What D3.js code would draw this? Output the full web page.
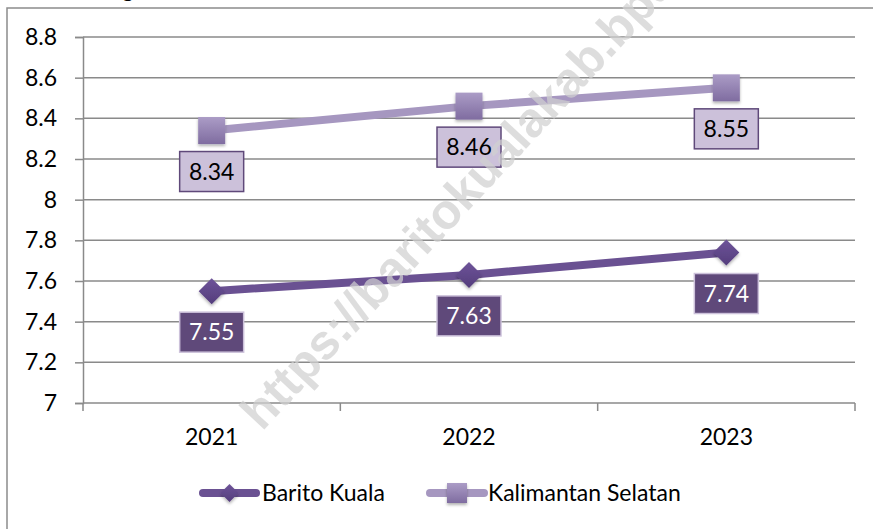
<!DOCTYPE html>
<html>
<head>
<meta charset="utf-8">
<script src="https://cdn.jsdelivr.net/npm/d3@7"></script>
<style>
  body { margin: 0; background: #fff; }
  text { font-family: Lato, "Open Sans", sans-serif; }
</style>
</head>
<body>
<div id="chart"></div>
<script>
// Data.
var years = ['2021', '2022', '2023'];
var baritoKuala = [7.55, 7.63, 7.74];
var kalimantanSelatan = [8.34, 8.46, 8.55];
var yTicks = [7, 7.2, 7.4, 7.6, 7.8, 8, 8.2, 8.4, 8.6, 8.8];

var width = 873,
    height = 529;
var margin = {left: 83, right: 18, top: 37, bottom: 126};

var svg = d3.select('#chart')
    .append('svg')
        .attr('width', width)
        .attr('height', height);

var defs = svg.append('defs');

// Gradients for the markers.
var gSq = defs.append('linearGradient').attr('id', 'gradSq')
    .attr('x1', 0).attr('y1', 0).attr('x2', 0).attr('y2', 1);
gSq.append('stop').attr('offset', '0%').attr('stop-color', '#ab9cc6');
gSq.append('stop').attr('offset', '100%').attr('stop-color', '#7f6ca0');

var gDi = defs.append('linearGradient').attr('id', 'gradDi')
    .attr('x1', 0).attr('y1', 0).attr('x2', 0).attr('y2', 1);
gDi.append('stop').attr('offset', '0%').attr('stop-color', '#6e5499');
gDi.append('stop').attr('offset', '100%').attr('stop-color', '#543d7c');

var shadow = defs.append('filter').attr('id', 'shadow')
    .attr('x', '-50%').attr('y', '-50%').attr('width', '200%').attr('height', '200%');
shadow.append('feDropShadow')
    .attr('dx', 0).attr('dy', 2).attr('stdDeviation', 1.5)
    .attr('flood-color', '#000').attr('flood-opacity', 0.3);

// Outer frame (right and bottom edges fall outside the picture).
svg.append('rect')
    .attr('x', 7).attr('y', 8)
    .attr('width', width + 10).attr('height', height + 10)
    .attr('fill', 'none')
    .attr('stroke', '#8c8c8c')
    .attr('stroke-width', 1.5);

// Title, cut off at the top edge in the source.
svg.append('text')
    .attr('x', 128).attr('y', -3)
    .attr('text-anchor', 'middle')
    .attr('font-size', '23px')
    .attr('fill', '#000')
    .text('g');

var g = svg.append('g')
    .attr('transform', 'translate(' + margin.left + ', ' + margin.top + ')');

var w = width - margin.left - margin.right,
    h = height - margin.top - margin.bottom;

var x = d3.scaleBand()
    .domain(years)
    .range([0, w]);

var y = d3.scaleLinear()
    .domain([7, 8.8])
    .range([h, 0]);

// Gridlines.
g.append('g')
    .selectAll('line')
    .data(yTicks.slice(1))
    .enter().append('line')
        .attr('x1', 0).attr('x2', w)
        .attr('y1', function(d){ return y(d); })
        .attr('y2', function(d){ return y(d); })
        .attr('stroke', '#8a8a8a')
        .attr('stroke-width', 1.5);

// Y axis.
var yAxisCall = d3.axisLeft(y)
    .tickValues(yTicks)
    .tickSize(8)
    .tickPadding(18)
    .tickFormat(function(d){ return d3.format('')(+d.toFixed(1)); });

var yAxis = g.append('g')
    .attr('class', 'y-axis')
    .call(yAxisCall);
yAxis.select('.domain').attr('stroke', '#8a8a8a').attr('stroke-width', 1.5);
yAxis.selectAll('.tick line').attr('stroke', '#8a8a8a').attr('stroke-width', 1.5);
yAxis.selectAll('text')
    .attr('font-size', '23px')
    .attr('fill', '#000')
    .style('font-family', 'Lato, sans-serif');

// X axis: line plus ticks at band edges.
g.append('line')
    .attr('x1', 0).attr('x2', w)
    .attr('y1', h).attr('y2', h)
    .attr('stroke', '#8a8a8a')
    .attr('stroke-width', 1.5);

var edges = years.map(function(d){ return x(d); }).concat([w]);
g.append('g')
    .selectAll('line')
    .data(edges)
    .enter().append('line')
        .attr('x1', function(d){ return d; })
        .attr('x2', function(d){ return d; })
        .attr('y1', h).attr('y2', h + 8)
        .attr('stroke', '#8a8a8a')
        .attr('stroke-width', 1.5);

g.append('g')
    .selectAll('text')
    .data(years)
    .enter().append('text')
        .attr('x', function(d){ return x(d) + x.bandwidth() / 2; })
        .attr('y', h + 42)
        .attr('text-anchor', 'middle')
        .attr('font-size', '23px')
        .attr('fill', '#000')
        .text(function(d){ return d; });

// Series definitions.
var series = [
    {name: 'Barito Kuala', values: baritoKuala, line: '#6a5192', marker: 'diamond',
     boxFill: '#5f497a', boxStroke: '#ccc1da', textFill: '#fff'},
    {name: 'Kalimantan Selatan', values: kalimantanSelatan, line: '#a697c0', marker: 'square',
     boxFill: '#ccc1da', boxStroke: '#5f497a', textFill: '#000'}
];

var cx = function(i){ return x(years[i]) + x.bandwidth() / 2; };

var line = d3.line()
    .x(function(d, i){ return cx(i); })
    .y(function(d){ return y(d); });

function drawMarker(sel, type, size) {
    if (type === 'square') {
        sel.append('rect')
            .attr('x', -size / 2).attr('y', -size / 2)
            .attr('width', size).attr('height', size)
            .attr('fill', 'url(#gradSq)')
            .attr('filter', 'url(#shadow)');
    } else {
        var r = size / 2;
        sel.append('path')
            .attr('d', 'M0,' + (-r) + 'L' + r + ',0L0,' + r + 'L' + (-r) + ',0Z')
            .attr('fill', 'url(#gradDi)')
            .attr('filter', 'url(#shadow)');
    }
}

series.forEach(function(s){
    g.append('path')
        .datum(s.values)
        .attr('d', line)
        .attr('fill', 'none')
        .attr('stroke', s.line)
        .attr('stroke-width', 8)
        .attr('stroke-linecap', 'round');

    s.values.forEach(function(v, i){
        var m = g.append('g')
            .attr('transform', 'translate(' + cx(i) + ',' + y(v) + ')');
        drawMarker(m, s.marker, s.marker === 'square' ? 27 : 26);

        // Data label box below the point.
        var lb = g.append('g')
            .attr('transform', 'translate(' + cx(i) + ',' + (y(v) + 41) + ')');
        lb.append('rect')
            .attr('x', -32).attr('y', -20)
            .attr('width', 64).attr('height', 40)
            .attr('fill', s.boxFill)
            .attr('stroke', s.boxStroke)
            .attr('stroke-width', 1.5);
        lb.append('text')
            .attr('x', 0).attr('y', 8)
            .attr('text-anchor', 'middle')
            .attr('font-size', '23px')
            .attr('fill', s.textFill)
            .text(d3.format('.2f')(v));
    });
});

// Watermark.
svg.append('text')
    .attr('transform', 'translate(262,432) rotate(-47)')
    .attr('font-weight', 'bold')
    .attr('font-size', '49px')
    .attr('fill', '#d0d0d0')
    .attr('fill-opacity', 0.72)
    .style('font-family', '"Liberation Sans", Arial, sans-serif')
    .text('https://baritokualakab.bps.go.id');

// Legend.
var legend = svg.append('g');
var legendItems = [
    {s: series[0], x1: 203, x2: 256, tx: 262},
    {s: series[1], x1: 430, x2: 484, tx: 488}
];
legendItems.forEach(function(d){
    var ly = 493;
    legend.append('line')
        .attr('x1', d.x1).attr('x2', d.x2)
        .attr('y1', ly).attr('y2', ly)
        .attr('stroke', d.s.line)
        .attr('stroke-width', 8)
        .attr('stroke-linecap', 'round');
    var m = legend.append('g')
        .attr('transform', 'translate(' + ((d.x1 + d.x2) / 2) + ',' + ly + ')');
    drawMarker(m, d.s.marker, d.s.marker === 'square' ? 20 : 18);
    legend.append('text')
        .attr('x', d.tx).attr('y', ly + 8)
        .attr('font-size', '23px')
        .attr('fill', '#000')
        .text(d.s.name);
});
</script>
</body>
</html>
